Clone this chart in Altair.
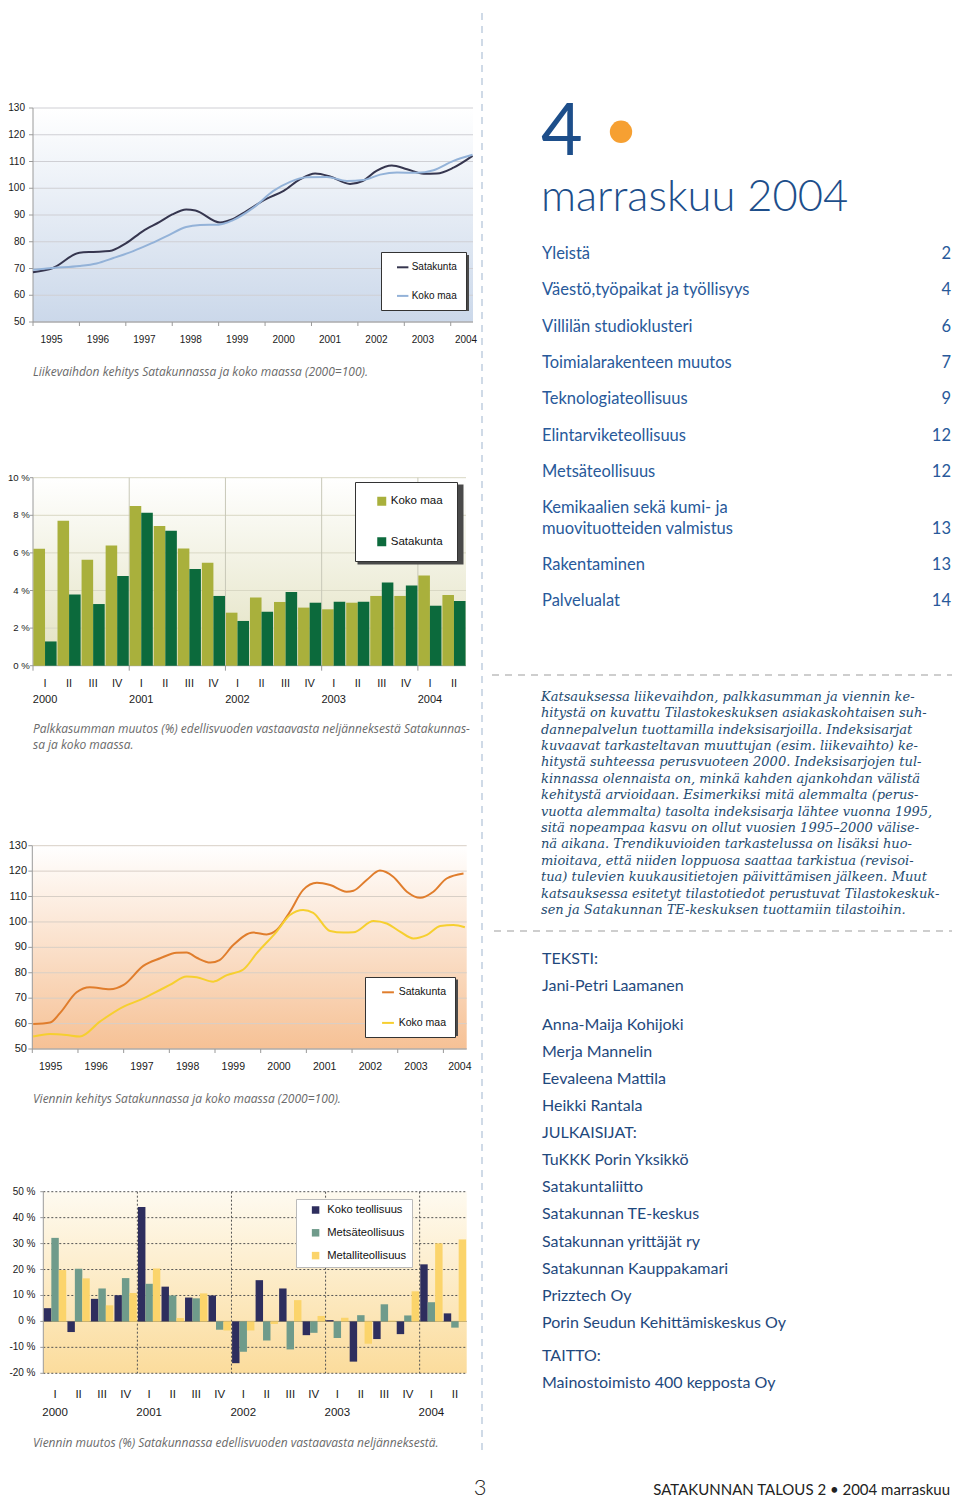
import altair as alt
import pandas as pd

# ======================= DATA =======================
years = [1995, 1996, 1997, 1998, 1999, 2000, 2001, 2002, 2003, 2004]
index_ticks = [50, 60, 70, 80, 90, 100, 110, 120, 130]
line_series = ["Satakunta", "Koko maa"]

# Liikevaihdon kehitys (2000=100)
lv_sat_t = [1995.0, 1995.43, 1996.0, 1996.3, 1996.65, 1997.0, 1997.37, 1997.73, 1998.0, 1998.3,
            1998.5, 1999.03, 1999.3, 1999.6, 2000.04, 2000.4, 2000.76, 2001.08, 2001.4, 2001.83,
            2002.1, 2002.4, 2002.73, 2003.06, 2003.42, 2003.7, 2004.06, 2004.47]
lv_sat_v = [68.6, 70.2, 75.9, 76.2, 76.5, 79.4, 84.0, 87.4, 90.2, 92.1,
            91.7, 87.2, 88.4, 91.5, 96.1, 99.0, 103.4, 105.5, 104.4, 101.6,
            102.7, 106.5, 108.5, 107.1, 105.4, 105.5, 107.7, 112.1]
lv_koko_t = [1995.0, 1995.43, 1996.0, 1996.37, 1996.73, 1997.16, 1997.5, 1997.88, 1998.3, 1998.6,
             1999.0, 1999.3, 1999.75, 2000.18, 2000.54, 2000.9, 2001.33, 2001.76, 2002.12, 2002.48,
             2002.84, 2003.27, 2003.63, 2004.06, 2004.47]
lv_koko_v = [69.5, 70.2, 70.9, 71.9, 73.9, 76.5, 79.0, 82.1, 85.5, 86.25,
             86.4, 88.0, 92.75, 99.0, 102.4, 104.1, 104.25, 102.75, 103.1, 105.1,
             105.9, 105.75, 106.75, 110.25, 112.5]

# Viennin kehitys (2000=100)
vk_sat_t = [1995.02, 1995.39, 1995.6, 1995.97, 1996.26, 1996.7, 1997.0, 1997.43, 1997.8, 1998.16,
            1998.38, 1998.6, 1998.9, 1999.1, 1999.4, 1999.84, 2000.13, 2000.35, 2000.64, 2000.93,
            2001.23, 2001.52, 2001.88, 2002.03, 2002.32, 2002.61, 2002.9, 2003.2, 2003.49, 2003.78,
            2004.07, 2004.44]
vk_sat_v = [59.8, 60.4, 64.0, 72.3, 74.3, 73.5, 75.2, 82.7, 85.7, 87.9,
            88.0, 85.9, 84.0, 85.0, 90.9, 95.8, 95.1, 96.8, 104.0, 112.6,
            115.4, 114.5, 111.9, 112.3, 116.5, 120.2, 117.8, 111.9, 109.5, 111.9,
            117.1, 119.1]
vk_koko_t = [1995.02, 1995.39, 1995.75, 1996.04, 1996.48, 1997.0, 1997.36, 1997.65, 1998.01, 1998.38,
             1998.6, 1998.96, 1999.26, 1999.62, 1999.91, 2000.35, 2000.64, 2000.93, 2001.15, 2001.52,
             2001.81, 2002.03, 2002.47, 2002.76, 2003.05, 2003.34, 2003.64, 2003.93, 2004.22, 2004.47]
vk_koko_v = [54.9, 55.9, 55.5, 54.9, 60.8, 66.7, 69.3, 71.9, 75.2, 78.5,
             78.2, 76.5, 79.1, 81.3, 87.6, 96.2, 102.7, 104.7, 103.6, 96.4,
             95.8, 95.9, 100.4, 99.4, 96.2, 93.5, 94.9, 98.4, 98.8, 97.9]

# Quarters 2000 I ... 2004 II
quarters = ["I", "II", "III", "IV"] * 4 + ["I", "II"]
quarter_years = [2000] * 4 + [2001] * 4 + [2002] * 4 + [2003] * 4 + [2004] * 2

# Palkkasumman muutos (%)
pk_series = ["Koko maa", "Satakunta"]
pk_koko = [6.22, 7.71, 5.64, 6.40, 8.49, 7.43, 6.24, 5.48, 2.82, 3.63, 3.39, 3.09, 3.00, 3.35, 3.71, 3.71, 4.80, 3.76]
pk_sat = [1.29, 3.79, 3.28, 4.77, 8.14, 7.18, 5.14, 3.71, 2.38, 2.87, 3.92, 3.35, 3.40, 3.40, 4.43, 4.27, 3.19, 3.44]
pk_ticks = [0, 2, 4, 6, 8, 10]

# Viennin muutos (%)
vm_series = ["Koko teollisuus", "Metsäteollisuus", "Metalliteollisuus"]
vm_koko = [5.1, -4.1, 8.7, 10.1, 44.1, 13.4, 9.2, 10.0, -16.1, 15.9, 12.7, -5.3, 0.5, -15.5, -6.8, -4.9, 22.0, 3.1]
vm_metsa = [32.2, 20.3, 12.7, 16.7, 14.5, 10.0, 8.9, -3.2, -11.7, -7.4, -10.8, -4.4, -6.4, 2.4, 6.6, 2.3, 7.4, -2.4]
vm_metalli = [19.8, 16.6, 6.2, 11.0, 20.4, 1.3, 10.8, -3.5, -3.5, -1.0, 8.2, 2.1, 1.4, -8.6, 0.3, 11.6, 30.1, 31.6]
vm_ticks = [-20, -10, 0, 10, 20, 30, 40, 50]

captions = {
    "lv": ["Liikevaihdon kehitys Satakunnassa ja koko maassa (2000=100)."],
    "pk": ["Palkkasumman muutos (%) edellisvuoden vastaavasta neljänneksestä Satakunnas-",
           "sa ja koko maassa."],
    "vk": ["Viennin kehitys Satakunnassa ja koko maassa (2000=100)."],
    "vm": ["Viennin muutos (%) Satakunnassa edellisvuoden vastaavasta neljänneksestä."],
}

issue_number = "4"
issue_month = "marraskuu 2004"
toc_titles = ["Yleistä", "Väestö,työpaikat ja työllisyys", "Villilän studioklusteri",
              "Toimialarakenteen muutos", "Teknologiateollisuus", "Elintarviketeollisuus",
              "Metsäteollisuus", "Kemikaalien sekä kumi- ja|muovituotteiden valmistus",
              "Rakentaminen", "Palvelualat"]
toc_pages = ["2", "4", "6", "7", "9", "12", "12", "13", "13", "14"]

paragraph = [
    "Katsauksessa liikevaihdon, palkkasumman ja viennin ke-",
    "hitystä on kuvattu Tilastokeskuksen asiakaskohtaisen suh-",
    "dannepalvelun tuottamilla indeksisarjoilla. Indeksisarjat",
    "kuvaavat tarkasteltavan muuttujan (esim. liikevaihto) ke-",
    "hitystä suhteessa perusvuoteen 2000. Indeksisarjojen tul-",
    "kinnassa olennaista on, minkä kahden ajankohdan välistä",
    "kehitystä arvioidaan. Esimerkiksi mitä alemmalta (perus-",
    "vuotta alemmalta) tasolta indeksisarja lähtee vuonna 1995,",
    "sitä nopeampaa kasvu on ollut vuosien 1995–2000 välise-",
    "nä aikana. Trendikuvioiden tarkastelussa on lisäksi huo-",
    "mioitava, että niiden loppuosa saattaa tarkistua (revisoi-",
    "tua) tulevien kuukausitietojen päivittämisen jälkeen. Muut",
    "katsauksessa esitetyt tilastotiedot perustuvat Tilastokeskuk-",
    "sen ja Satakunnan TE-keskuksen tuottamiin tilastoihin.",
]

credit_groups = [
    ["TEKSTI:", "Jani-Petri Laamanen"],
    ["Anna-Maija Kohijoki", "Merja Mannelin", "Eevaleena Mattila", "Heikki Rantala",
     "JULKAISIJAT:", "TuKKK Porin Yksikkö", "Satakuntaliitto", "Satakunnan TE-keskus",
     "Satakunnan yrittäjät ry", "Satakunnan Kauppakamari", "Prizztech Oy",
     "Porin Seudun Kehittämiskeskus Oy"],
    ["TAITTO:", "Mainostoimisto 400 kepposta Oy"],
]
page_number = "3"
footer = "SATAKUNNAN TALOUS 2 • 2004 marraskuu"

# ======================= LAYOUT HELPERS =======================
CF = "Liberation Sans"
PF = "Lato"
TXT = "#1a1a1a"
AXC = "#9a9a9a"
CAPC = "#6a6a6a"
W, H = 944, 1491
ONE = pd.DataFrame({"k": [0]})


def px(x):
    return x - 8


def py(y):
    return y - 8


def grad(top, bottom):
    return alt.LinearGradient(gradient="linear",
                              stops=[alt.GradientStop(offset=0, color=top),
                                     alt.GradientStop(offset=1, color=bottom)],
                              x1=0, x2=0, y1=0, y2=1)


def rect(x0, y0, x1, y1, **kw):
    return alt.Chart(ONE).mark_rect(**kw).encode(
        x=alt.value(px(x0)), x2=alt.value(px(x1)), y=alt.value(py(y0)), y2=alt.value(py(y1)))


def hline(y, x0, x1, **kw):
    return alt.Chart(ONE).mark_rule(**kw).encode(
        x=alt.value(px(x0)), x2=alt.value(px(x1)), y=alt.value(py(y)))


def vline(x, y0, y1, **kw):
    return alt.Chart(ONE).mark_rule(**kw).encode(
        x=alt.value(px(x)), y=alt.value(py(y0)), y2=alt.value(py(y1)))


def text_rows(rows, **kw):
    df = pd.DataFrame({"t": [r[0] for r in rows], "x": [px(r[1]) for r in rows],
                       "y": [py(r[2]) for r in rows]})
    return alt.Chart(df).mark_text(baseline="middle", **kw).encode(
        x=alt.X("x:Q", scale=None, axis=None), y=alt.Y("y:Q", scale=None, axis=None), text="t:N")


def caption(lines, x, y, step=15.5):
    return text_rows([(t, x, y + i * step) for i, t in enumerate(lines)], align="left",
                     font="Open Sans", fontSize=12, fontStyle="italic", color=CAPC)


def line_panel(sat_t, sat_v, koko_t, koko_v, colors, box, xmax, bg_bottom, grid_color,
               ylab_right, ylab_fs, xlab_y, xlab_fs, legend, shadow):
    x0, y0, x1, y1 = box
    xs = alt.Scale(domain=[years[0], xmax], range=[px(x0), px(x1)], nice=False, zero=False)
    ys = alt.Scale(domain=[index_ticks[0], index_ticks[-1]], range=[py(y1), py(y0)],
                   nice=False, zero=False)
    ldf = pd.DataFrame({"t": sat_t + koko_t, "v": sat_v + koko_v,
                        "s": [line_series[0]] * len(sat_t) + [line_series[1]] * len(koko_t)})
    yt = pd.DataFrame({"v": index_ticks, "lab": [str(v) for v in index_ticks]})
    xt = pd.DataFrame({"yr": years, "lab": [str(y) for y in years],
                       "pos": [min(y + 0.4, xmax - 0.15) for y in years]})
    layers = [
        rect(x0, y0, x1, y1, fill=grad("#ffffff", bg_bottom)),
        alt.Chart(yt).mark_rule(color=grid_color, strokeWidth=1).encode(
            y=alt.Y("v:Q", scale=ys, axis=None), x=alt.value(px(x0)), x2=alt.value(px(x1))),
        alt.Chart(yt).mark_rule(color=AXC).encode(
            y=alt.Y("v:Q", scale=ys, axis=None), x=alt.value(px(x0) - 4), x2=alt.value(px(x0))),
        alt.Chart(xt).mark_rule(color=AXC).encode(
            x=alt.X("yr:Q", scale=xs, axis=None), y=alt.value(py(y1)), y2=alt.value(py(y1) + 4)),
        vline(x0, y0, y1, color=AXC),
        hline(y1, x0, x1, color=AXC),
        rect(*shadow, fill="#4a4a4a"),
        alt.Chart(ldf).mark_line(interpolate="monotone", strokeWidth=2).encode(
            x=alt.X("t:Q", scale=xs, axis=None), y=alt.Y("v:Q", scale=ys, axis=None),
            color=alt.Color("s:N", scale=alt.Scale(domain=line_series, range=colors), legend=legend)),
        alt.Chart(yt).mark_text(align="right", baseline="middle", font=CF, fontSize=ylab_fs,
                                color=TXT).encode(
            y=alt.Y("v:Q", scale=ys, axis=None), x=alt.value(px(ylab_right)), text="lab:N"),
        alt.Chart(xt).mark_text(align="center", baseline="middle", font=CF, fontSize=xlab_fs,
                                color=TXT).encode(
            x=alt.X("pos:Q", scale=xs, axis=None), y=alt.value(py(xlab_y)), text="lab:N"),
    ]
    return alt.layer(*layers)


def bar_panel(names, values, colors, box, ydom, ticks, bg_top, bg_bottom, grid_kw, sep_kw,
              zero_kw, ylab_right, ylab_fs, fs, qlab_y, ylab_y2, bar_pad, legend, shadow,
              bottom_axis):
    x0, y0, x1, y1 = box
    keys = [f"{y}-{q}" for y, q in zip(quarter_years, quarters)]
    xs = alt.Scale(domain=keys, range=[px(x0), px(x1)], paddingInner=0, paddingOuter=0)
    ys = alt.Scale(domain=ydom, range=[py(y1), py(y0)], nice=False, zero=False)
    n = len(keys)
    bdf = pd.DataFrame({"q": keys * len(names), "v": sum(values, []),
                        "s": sum([[nm] * n for nm in names], [])})
    yt = pd.DataFrame({"v": ticks, "lab": [f"{v} %" for v in ticks]})
    q1 = [k for k, q in zip(keys, quarters) if q == "I"]
    q1y = [str(y) for y, q in zip(quarter_years, quarters) if q == "I"]
    sep = pd.DataFrame({"q": q1[1:]})
    ystart = pd.DataFrame({"q": q1})
    qdf = pd.DataFrame({"q": keys, "lab": quarters})
    ydf = pd.DataFrame({"q": q1, "lab": q1y})
    grid_vals = pd.DataFrame({"v": [t for t in ticks if t != 0]})
    layers = [
        rect(x0, y0, x1, y1, fill=grad(bg_top, bg_bottom)),
        alt.Chart(grid_vals).mark_rule(**grid_kw).encode(
            y=alt.Y("v:Q", scale=ys, axis=None), x=alt.value(px(x0)), x2=alt.value(px(x1))),
        alt.Chart(sep).mark_rule(**sep_kw).encode(
            x=alt.X("q:N", scale=xs, axis=None, bandPosition=0), y=alt.value(py(y0)), y2=alt.value(py(y1))),
        alt.Chart(pd.DataFrame({"v": [0]})).mark_rule(**zero_kw).encode(
            y=alt.Y("v:Q", scale=ys, axis=None), x=alt.value(px(x0)), x2=alt.value(px(x1))),
        alt.Chart(yt).mark_rule(color=AXC).encode(
            y=alt.Y("v:Q", scale=ys, axis=None), x=alt.value(px(x0) - 3), x2=alt.value(px(x0))),
        vline(x0, y0, y1, color=AXC),
    ]
    if bottom_axis:
        layers.append(alt.Chart(ystart).mark_rule(color=AXC).encode(
            x=alt.X("q:N", scale=xs, axis=None, bandPosition=0), y=alt.value(py(y1)), y2=alt.value(py(y1) + 5)))
    if shadow is not None:
        layers.append(rect(*shadow, fill="#4a4a4a"))
    layers += [
        alt.Chart(bdf).mark_bar().encode(
            x=alt.X("q:N", scale=xs, axis=None),
            xOffset=alt.XOffset("s:N", scale=alt.Scale(domain=names, paddingInner=0, paddingOuter=bar_pad)),
            y=alt.Y("v:Q", scale=ys, axis=None, stack=None), y2=alt.datum(0),
            color=alt.Color("s:N", scale=alt.Scale(domain=names, range=colors), legend=legend)),
        alt.Chart(yt).mark_text(align="right", baseline="middle", font=CF, fontSize=ylab_fs,
                                color=TXT).encode(
            y=alt.Y("v:Q", scale=ys, axis=None), x=alt.value(px(ylab_right)), text="lab:N"),
        alt.Chart(qdf).mark_text(align="center", baseline="middle", font=CF, fontSize=fs,
                                 color=TXT).encode(
            x=alt.X("q:N", scale=xs, axis=None), y=alt.value(py(qlab_y)), text="lab:N"),
        alt.Chart(ydf).mark_text(align="center", baseline="middle", font=CF, fontSize=fs,
                                 color=TXT).encode(
            x=alt.X("q:N", scale=xs, axis=None), y=alt.value(py(ylab_y2)), text="lab:N"),
    ]
    return alt.layer(*layers)


def legend(x, y, pad, rowpad, symtype, symsize, symoff, laboff, fs, stroke, sw=0):
    return alt.Legend(orient="none", legendX=px(x), legendY=py(y), title=None,
                      fillColor="white", strokeColor=stroke, padding=pad, rowPadding=rowpad,
                      symbolType=symtype, symbolSize=symsize, symbolStrokeWidth=sw,
                      symbolOffset=symoff, labelOffset=laboff, labelFont=CF, labelFontSize=fs,
                      labelColor="#111111")


# ======================= PANELS =======================
p1 = line_panel(lv_sat_t, lv_sat_v, lv_koko_t, lv_koko_v, ["#36364f", "#93b2d8"],
                (33, 108, 473, 322), 2004.48, "#cbd8ea", "#cfcfd4", 25, 10, 339.5, 10,
                legend(381, 252, 8.3, 16.6, "stroke", 130, 6.4, 2, 10, "#333333", 2),
                (384, 255, 469, 311))

p2 = bar_panel(pk_series, [pk_koko, pk_sat], ["#a9b03c", "#0c6a3c"], (33, 477.7, 466, 665.7),
               [0, 10], pk_ticks, "#ffffff", "#e2e1c0",
               dict(color="#d9d8c4", strokeWidth=1), dict(color="#c8c8b8", strokeWidth=1),
               dict(color=AXC, strokeWidth=1), 29.8, 9.6, 11, 683.5, 699.5, 0.04,
               legend(355, 482, 13.5, 27.5, "square", 81, 7.5, 3.3, 11.5, "#333333"),
               (357.5, 484.5, 463.5, 564.5), True)

p3 = line_panel(vk_sat_t, vk_sat_v, vk_koko_t, vk_koko_v, ["#e07d2c", "#f6cf2f"],
                (32.3, 845.7, 466.7, 1049), 2004.51, "#f6c195", "#d8cfc6", 27, 11, 1067, 10.5,
                legend(365, 977, 8.3, 17.6, "stroke", 140, 7.7, 3.7, 10.5, "#333333", 2),
                (367.5, 979.5, 458, 1036))

p4 = bar_panel(vm_series, [vm_koko, vm_metsa, vm_metalli], ["#2e2e5e", "#6f9b8b", "#fbd46b"],
               (43.3, 1191.7, 466.7, 1373.3), [-20, 50], vm_ticks, "#fefaf0", "#fbdc9c",
               dict(color="#555555", strokeWidth=1, strokeDash=[2, 2]),
               dict(color="#555555", strokeWidth=1, strokeDash=[2, 2]),
               dict(color="#a0946a", strokeWidth=1), 35.5, 10, 11.5, 1394.7, 1413, 0.08,
               legend(296, 1199, 5.4, 10.8, "square", 56, 8.6, 6, 11.2, "#bbbbbb"),
               None, False)

caps = [caption(captions["lv"], 33, 371.5), caption(captions["pk"], 33, 729),
        caption(captions["vk"], 33, 1099), caption(captions["vm"], 33, 1443)]

# ======================= PAGE TEXT =======================
BLUE = "#1d4e8a"
TOCC = "#28599a"
CREDC = "#1f497d"
PARC = "#244b70"

toc_rows, toc_num_rows = [], []
cy = 254
for title, page in zip(toc_titles, toc_pages):
    parts = title.split("|")
    for j, part in enumerate(parts):
        toc_rows.append((part, 542, cy + j * 20.4))
    toc_num_rows.append((page, 951, cy + (len(parts) - 1) * 20.4))
    cy += (len(parts) - 1) * 20.4 + 36.3

par_rows = [(t, 541, 696.7 + i * 16.4) for i, t in enumerate(paragraph)]

cred_rows = []
cy = 959
gaps = [38.6, 32.7]
for gi, grp in enumerate(credit_groups):
    for j, t in enumerate(grp):
        cred_rows.append((t, 542, cy))
        if j < len(grp) - 1:
            cy += 27.1
    if gi < len(gaps):
        cy += gaps[gi]

page_layers = [
    vline(482, 0, 1452, color="#9fb5cf", strokeWidth=1, strokeDash=[7, 6]),
    hline(675, 492, 960, color="#9d9d9d", strokeWidth=1, strokeDash=[7, 6]),
    hline(931, 494, 960, color="#9d9d9d", strokeWidth=1, strokeDash=[7, 6]),
    text_rows([(issue_number, 541, 133)], align="left", font=PF, fontSize=72, fontWeight=400, color=BLUE),
    alt.Chart(ONE).mark_circle(size=500, color="#f6a032", opacity=1).encode(
        x=alt.value(px(621)), y=alt.value(py(131.8))),
    text_rows([(issue_month, 541, 198)], align="left", font=PF, fontSize=43.5, fontWeight=300, color=BLUE),
    text_rows(toc_rows, align="left", font=PF, fontSize=16.5, color=TOCC),
    text_rows(toc_num_rows, align="right", font=PF, fontSize=16.5, color=TOCC),
    text_rows(par_rows, align="left", font="DejaVu Serif", fontSize=13, fontStyle="italic", color=PARC),
    text_rows(cred_rows, align="left", font=PF, fontSize=16, color=CREDC),
    text_rows([(page_number, 480, 1488)], align="center", font=PF, fontSize=22, fontWeight=300, color="#222222"),
    text_rows([(footer, 950, 1490)], align="right", font=PF, fontSize=15, color="#222222"),
]

chart = alt.layer(p1, p2, p3, p4, *caps, *page_layers).resolve_scale(
    x="independent", y="independent", color="independent", xOffset="independent"
).resolve_legend(color="independent").properties(
    width=W, height=H, padding=0, autosize=alt.AutoSizeParams(type="none")
).configure_view(stroke=None)

chart.save("out.html", embed_options={"renderer": "svg", "actions": False})
